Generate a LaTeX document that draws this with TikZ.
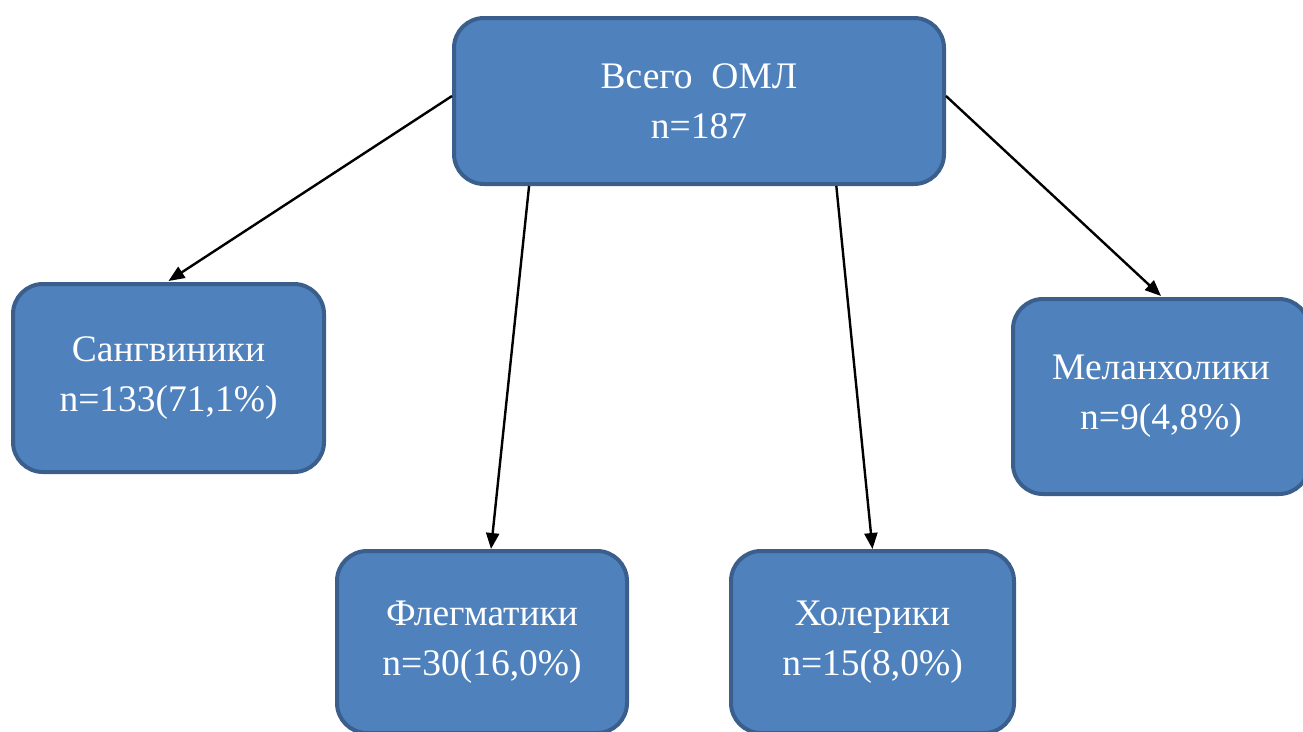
\documentclass[tikz,border=0pt]{standalone}
\usepackage{fontspec}
\setmainfont{Liberation Serif}
\usetikzlibrary{arrows.meta,calc}
\definecolor{boxfill}{HTML}{4F81BD}
\definecolor{boxline}{HTML}{3B5F8C}
\begin{document}
\begin{tikzpicture}[x=1pt,y=-1pt,
  box/.style={draw=boxline, fill=boxfill, line width=4pt, rounded corners=30pt,
    rectangle, inner sep=0pt, align=center, text=white,
    font=\fontsize{37.5}{50}\selectfont},
  conn/.style={line width=2.4pt, -{Triangle[length=16pt,width=13pt]}}]
\useasboundingbox (0,0) rectangle (1303,731);
\node[box, minimum width=490pt, minimum height=166pt] (top) at (699,101) {Всего\ \ ОМЛ\\n=187};
\node[box, minimum width=311pt, minimum height=188pt] (sang) at (168.5,378) {Сангвиники\\n=133(71,1\%)};
\node[box, minimum width=296pt, minimum height=195pt] (mel) at (1161,396.5) {Меланхолики\\n=9(4,8\%)};
\node[box, minimum width=290pt, minimum height=182pt] (phl) at (482,642) {Флегматики\\n=30(16,0\%)};
\node[box, minimum width=283pt, minimum height=182pt] (chol) at (872.5,642) {Холерики\\n=15(8,0\%)};
\draw[conn] ($(top.west)+(0,-5)$) -- ($(sang.north)+(0,-1)$);
\draw[conn] ($(top.east)+(0,-5)$) -- ($(mel.north)+(0,-1)$);
\draw[conn] ($(top.south west)!0.156!(top.south east)$) -- ($(phl.north)+(9,0)$);
\draw[conn] ($(top.south west)!0.778!(top.south east)$) -- (chol.north);
\end{tikzpicture}
\end{document}
